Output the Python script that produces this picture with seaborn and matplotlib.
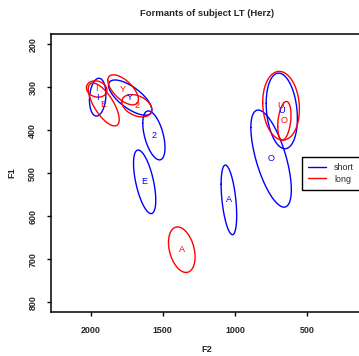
import numpy as np
import pandas as pd
import matplotlib
matplotlib.use("Agg")
import matplotlib.pyplot as plt
from matplotlib.lines import Line2D
import seaborn as sns

# ---- data ----
vowels = ['I', 'E', 'Y', '2', 'A', 'O', 'U']
groups = ['short', 'long']

short_f2 = [1951, 1626, 1726, 1562, 1043, 751, 677]
short_f1 = [323, 520, 324, 412, 562, 466, 355]
short_spread_f2 = [57, 77, 150, 77, 54, 140, 108]
short_spread_f1 = [44, 74, 41, 57, 81, 113, 88]
short_corr = [0.15, -0.58, -0.7, -0.5, -0.45, -0.64, -0.2]

long_f2 = [1958, 1909, 1775, 1680, 1369, 659, 682]
long_f1 = [304, 340, 306, 343, 678, 378, 343]
long_spread_f2 = [71, 107, 106, 104, 92, 46, 127]
long_spread_f1 = [19, 50, 35, 26, 53, 45, 80]
long_corr = [-0.15, -0.7, -0.63, -0.35, -0.32, 0.3, -0.1]

x_ticks = [2000, 1500, 1000, 500]
y_ticks = [200, 300, 400, 500, 600, 700, 800]

colors = {'short': 'blue', 'long': 'red'}

sns.set_style("ticks")
plt.rcParams['font.family'] = ['Liberation Sans', 'DejaVu Sans']

W, H = 359, 356
fig = plt.figure(figsize=(W / 100, H / 100), dpi=100)
L, R, T, B = 51, 363, 34, 312
ax = fig.add_axes([L / W, 1 - B / H, (R - L) / W, (B - T) / H])

tables = {
    'short': (short_f2, short_f1, short_spread_f2, short_spread_f1, short_corr),
    'long': (long_f2, long_f1, long_spread_f2, long_spread_f1, long_corr),
}

t = np.linspace(0, 2 * np.pi, 241)
rows = []
for g in groups:
    f2, f1, s2, s1, rr = tables[g]
    for i, v in enumerate(vowels):
        xs = f2[i] + s2[i] * np.cos(t)
        ys = f1[i] + s1[i] * (rr[i] * np.cos(t) + np.sqrt(1 - rr[i] ** 2) * np.sin(t))
        for k in range(len(t)):
            rows.append((g, f"{g}_{v}", k, xs[k], ys[k]))
df = pd.DataFrame(rows, columns=['group', 'uid', 'k', 'F2', 'F1'])

sns.lineplot(data=df, x='F2', y='F1', hue='group', units='uid', estimator=None,
             sort=False, palette=colors, legend=False, lw=1.0, ax=ax)

for g in groups:
    f2, f1 = tables[g][0], tables[g][1]
    for i, v in enumerate(vowels):
        ax.text(f2[i], f1[i], v, color=colors[g], fontsize=6.5,
                ha='center', va='center')

ax.set_xlim(2274, 115)
ax.set_ylim(823, 176)
ax.set_xticks(x_ticks)
ax.set_yticks(y_ticks)
ax.set_xticklabels([str(v) for v in x_ticks], fontsize=6.4, fontweight='bold')
ax.set_yticklabels([str(v) for v in y_ticks], fontsize=6.4, fontweight='bold',
                   rotation=90, va='center')
ax.tick_params(axis='both', length=2.9, width=1.0, pad=7, color='black')

for sp in ax.spines.values():
    sp.set_linewidth(1.1)
    sp.set_color('black')

ax.set_xlabel('F2', fontsize=6.6, fontweight='bold', va='center')
ax.xaxis.set_label_coords(0.5, -(350 - B) / (B - T))
ax.set_ylabel('F1', fontsize=6.6, fontweight='bold', va='center')
ax.yaxis.set_label_coords(-(L - 12) / (R - L), 0.5)

fig.text(207 / W, 1 - 13 / H, 'Formants of subject LT (Herz)', fontsize=6.8,
         fontweight='bold', ha='center', va='center')

handles = [Line2D([], [], color=colors[g], lw=1.0) for g in groups]
leg = ax.legend(handles, groups, loc='center left',
                bbox_to_anchor=(302 / W, 1 - 173.4 / H), bbox_transform=fig.transFigure,
                borderaxespad=0, fontsize=6.4, frameon=True, fancybox=False,
                edgecolor='black', borderpad=0.7, labelspacing=0.25,
                handlelength=2.0, handletextpad=0.9)
leg.get_frame().set_linewidth(1.0)
leg.get_frame().set_alpha(1)

fig.savefig('out.png', dpi=100, facecolor='white')
